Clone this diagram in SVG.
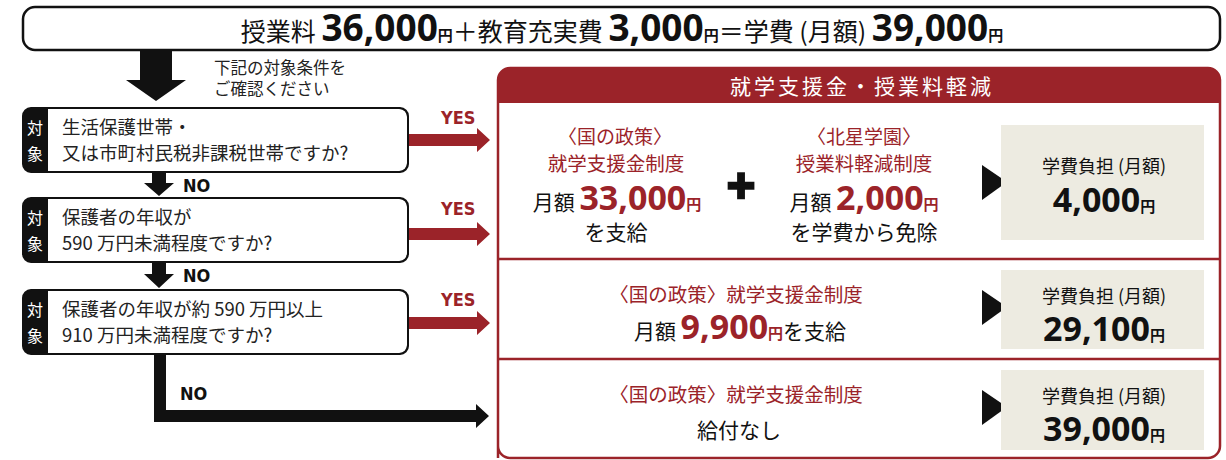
<svg xmlns="http://www.w3.org/2000/svg" width="1226" height="460" viewBox="0 0 1226 460">
<style>
.jp{font-family:"Noto Sans CJK JP","Noto Sans",sans-serif;}
.num{font-family:"Noto Sans","Open Sans","Noto Sans CJK JP",sans-serif;font-weight:700;}
.yn{font-family:"Liberation Sans Narrow","DejaVu Sans Condensed","DejaVu Sans",sans-serif;font-weight:700;font-size:18px;}
.q{font-size:18.5px;fill:#222;}
.tab{font-size:16px;fill:#fff;text-anchor:middle;}
.red{fill:#9b2329;}
.blk{fill:#111;}
.mid{text-anchor:middle;}
.gbox{fill:#edebe1;}
</style>

<g id="header">
  <rect x="23" y="7" width="1197" height="43" rx="12" fill="#fff" stroke="#111" stroke-width="2.5"/>
  <text x="622" y="41" class="jp mid blk" font-size="25"><tspan>授業料 </tspan><tspan class="num" font-size="37">36,000</tspan><tspan class="num" font-size="15">円</tspan><tspan>＋教育充実費 </tspan><tspan class="num" font-size="37">3,000</tspan><tspan class="num" font-size="15">円</tspan><tspan>＝学費 (月額) </tspan><tspan class="num" font-size="37">39,000</tspan><tspan class="num" font-size="15">円</tspan></text>
</g>

<g id="note">
  <text x="214" y="74" class="jp" font-size="16.5" fill="#222">下記の対象条件を</text>
  <text x="214" y="95" class="jp" font-size="16.5" fill="#222">ご確認ください</text>
</g>

<g id="connectors">
  <polygon points="140,50 172,50 172,80 186,80 156,101 126,80 140,80" fill="#111"/>
  <polygon points="152,172 166,172 166,183 174,183 159,196 144,183 152,183" fill="#111"/>
  <polygon points="152,262 166,262 166,274 174,274 159,288 144,274 152,274" fill="#111"/>
  <polygon points="154,354 166,354 166,410 476,410 476,404 489,416 476,428 476,422 154,422" fill="#111"/>
  <polygon points="408,134 477,134 477,128 490,140 477,152 477,146 408,146" class="red"/>
  <polygon points="408,228 477,228 477,222 490,234 477,246 477,240 408,240" class="red"/>
  <polygon points="408,317 477,317 477,311 490,323 477,335 477,329 408,329" class="red"/>
  <text x="441" y="124" class="yn red">YES</text>
  <text x="441" y="215" class="yn red">YES</text>
  <text x="441" y="306" class="yn red">YES</text>
  <text x="183" y="192" class="yn blk">NO</text>
  <text x="183" y="282" class="yn blk">NO</text>
  <text x="180" y="400" class="yn blk">NO</text>
</g>

<g id="q1">
  <rect x="23" y="108" width="385" height="64" rx="8" fill="#111"/>
  <path d="M48,109 H399 a8,8 0 0 1 8,8 V163 a8,8 0 0 1 -8,8 H48 Z" fill="#fff"/>
  <rect x="23" y="108" width="385" height="64" rx="8" fill="none" stroke="#111" stroke-width="2"/>
  <text x="35" y="134" class="jp tab">対</text>
  <text x="35" y="160" class="jp tab">象</text>
  <text x="62" y="134" class="jp q">生活保護世帯・</text>
  <text x="62" y="160" class="jp q">又は市町村民税非課税世帯ですか?</text>
</g>

<g id="q2">
  <rect x="23" y="198" width="385" height="64" rx="8" fill="#111"/>
  <path d="M48,199 H399 a8,8 0 0 1 8,8 V253 a8,8 0 0 1 -8,8 H48 Z" fill="#fff"/>
  <rect x="23" y="198" width="385" height="64" rx="8" fill="none" stroke="#111" stroke-width="2"/>
  <text x="35" y="224" class="jp tab">対</text>
  <text x="35" y="250" class="jp tab">象</text>
  <text x="62" y="224" class="jp q">保護者の年収が</text>
  <text x="62" y="250" class="jp q">590 万円未満程度ですか?</text>
</g>

<g id="q3">
  <rect x="23" y="290" width="385" height="64" rx="8" fill="#111"/>
  <path d="M48,291 H399 a8,8 0 0 1 8,8 V345 a8,8 0 0 1 -8,8 H48 Z" fill="#fff"/>
  <rect x="23" y="290" width="385" height="64" rx="8" fill="none" stroke="#111" stroke-width="2"/>
  <text x="35" y="316" class="jp tab">対</text>
  <text x="35" y="342" class="jp tab">象</text>
  <text x="62" y="316" class="jp q">保護者の年収が約 590 万円以上</text>
  <text x="62" y="342" class="jp q">910 万円未満程度ですか?</text>
</g>

<g id="panel">
  <path d="M498,458 V80 a12,12 0 0 1 12,-12 H1208 a12,12 0 0 1 12,12 V446 a12,12 0 0 1 -12,12 H510 a12,12 0 0 1 -12,-12" fill="#fff" stroke="#9b2329" stroke-width="2.5"/>
  <path d="M498,103 V80 a12,12 0 0 1 12,-12 H1208 a12,12 0 0 1 12,12 V103 Z" class="red"/>
  <text x="862" y="94" class="jp mid" font-size="21" fill="#fff" letter-spacing="3">就学支援金・授業料軽減</text>
  <line x1="498" y1="259" x2="1220" y2="259" stroke="#9b2329" stroke-width="2.5"/>
  <line x1="498" y1="359" x2="1220" y2="359" stroke="#9b2329" stroke-width="2.5"/>
</g>

<g id="row1">
  <text x="615" y="144" class="jp mid red" font-size="19">〈国の政策〉</text>
  <text x="616" y="171" class="jp mid red" font-size="19.5">就学支援金制度</text>
  <text x="617" y="210" class="jp mid blk" font-size="21"><tspan>月額 </tspan><tspan class="num red" font-size="34">33,000</tspan><tspan class="num red" font-size="15">円</tspan></text>
  <text x="616" y="240" class="jp mid blk" font-size="21">を支給</text>
  <text x="741" y="204" class="num mid blk" font-size="50" stroke="#111" stroke-width="2.5">+</text>
  <text x="864" y="144" class="jp mid red" font-size="19">〈北星学園〉</text>
  <text x="864" y="171" class="jp mid red" font-size="19.5">授業料軽減制度</text>
  <text x="864" y="210" class="jp mid blk" font-size="21"><tspan>月額 </tspan><tspan class="num red" font-size="34">2,000</tspan><tspan class="num red" font-size="15">円</tspan></text>
  <text x="864" y="240" class="jp mid blk" font-size="21">を学費から免除</text>
  <polygon points="982,165 1007,182 982,200" fill="#111"/>
  <rect x="1001" y="125" width="203" height="115" class="gbox"/>
  <text x="1104" y="173" class="jp mid blk" font-size="18">学費負担 (月額)</text>
  <text x="1104" y="212" class="jp mid blk"><tspan class="num" font-size="34">4,000</tspan><tspan class="num" font-size="15">円</tspan></text>
</g>

<g id="row2">
  <text x="736" y="302" class="jp mid red" font-size="19.5">〈国の政策〉就学支援金制度</text>
  <text x="740" y="339" class="jp mid blk" font-size="21"><tspan>月額 </tspan><tspan class="num red" font-size="34">9,900</tspan><tspan class="num red" font-size="15">円</tspan><tspan>を支給</tspan></text>
  <polygon points="982,290 1007,307 982,325" fill="#111"/>
  <rect x="1001" y="270" width="203" height="79" class="gbox"/>
  <text x="1104" y="303" class="jp mid blk" font-size="18">学費負担 (月額)</text>
  <text x="1104" y="341" class="jp mid blk"><tspan class="num" font-size="34">29,100</tspan><tspan class="num" font-size="15">円</tspan></text>
</g>

<g id="row3">
  <text x="736" y="402" class="jp mid red" font-size="19.5">〈国の政策〉就学支援金制度</text>
  <text x="739" y="438" class="jp mid blk" font-size="21">給付なし</text>
  <polygon points="982,390 1007,407 982,425" fill="#111"/>
  <rect x="1001" y="370" width="203" height="80" class="gbox"/>
  <text x="1104" y="403" class="jp mid blk" font-size="18">学費負担 (月額)</text>
  <text x="1104" y="441" class="jp mid blk"><tspan class="num" font-size="34">39,000</tspan><tspan class="num" font-size="15">円</tspan></text>
</g>
</svg>
